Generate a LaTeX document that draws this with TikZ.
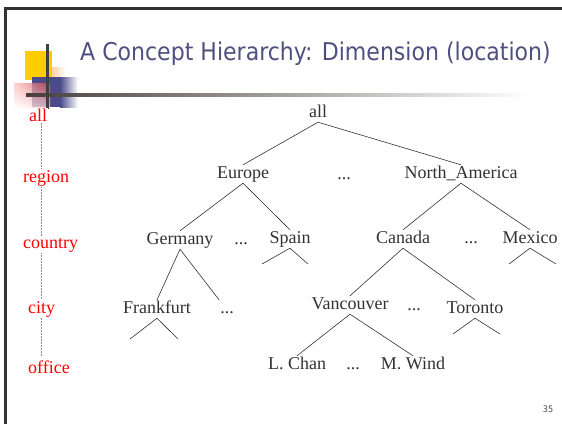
\documentclass[tikz,border=0pt]{standalone}
\usepackage{fontspec}
\setmainfont{Liberation Serif}
\newfontfamily\slidefont{DejaVu Sans Condensed}
\usetikzlibrary{positioning,shadings}
\definecolor{titleblue}{RGB}{80,80,128}
\definecolor{logoyellow}{RGB}{255,204,0}
\definecolor{logoblue}{RGB}{75,75,140}
\definecolor{logored}{RGB}{200,70,70}
\definecolor{barbrown}{RGB}{72,62,62}
\definecolor{treegray}{RGB}{50,50,50}
\tikzset{lvl/.style={font=\fontsize{18}{18}\selectfont, text=treegray,
    text height=12pt, text depth=4pt, inner sep=1pt, anchor=base},
  dim/.style={font=\fontsize{18}{18}\selectfont, text=red,
    fill=white, inner sep=1pt, anchor=base west},
  edge/.style={draw=treegray, line width=0.6pt}
}
\begin{document}
\begin{tikzpicture}[x=1pt,y=-1pt]
	\useasboundingbox (0,0) rectangle (562,424);
	\fill[white] (0,0) rectangle (562,424);
	% slide frame
	\draw[black!80, line width=2.5pt] (5.5,424) -- (5.5,8.5) -- (562,8.5);
	% logo
	\fill[logoyellow] (25,51) rectangle (52,80);
	\shade[left color=orange!35, right color=white] (52,67) rectangle (66,77);
	\fill[logoblue] (32,77) rectangle (60,107);
	\shade[left color=logoblue, right color=white] (60,77) rectangle (78,107);
	\shade[upper left=red!25, upper right=logored, lower left=white, lower right=red!15, opacity=0.75] (14,83) rectangle (50,108);
	\shade[left color=barbrown, right color=white] (26,93) rectangle (530,96);
	\fill[black!75] (46,44) rectangle (48.5,109);
	\node[anchor=base west, font=\slidefont\fontsize{24.5}{24.5}\selectfont, text=titleblue, inner sep=0] (title) at (80,60) {A Concept Hierarchy: Dimension (location)};
	% dimension levels
	\coordinate (axtop) at (41,123);
	\coordinate (axbot) at (41,357);
	\draw[black!45, dash pattern=on 2pt off 1pt, line width=0.4pt] (axtop) -- (axbot);
	\node[dim] (lall) at (28,121) {all};
	\node[dim] (lreg) at (22,182) {region};
	\node[dim] (lcou) at (22,248) {country};
	\node[dim] (lcit) at (27,313) {city};
	\node[dim] (loff) at (27,373) {office};
	% hierarchy
	\node[lvl] (all) at (318,117) {all};
	\node[lvl] (eu) at (243,178) {Europe};
	\node[lvl] (rdots) at (344,179) {...};
	\node[lvl] (na) at (461,178) {North\_America};
	\node[lvl] (ger) at (180,244) {Germany};
	\node[lvl] (cdotsA) at (241,244) {...};
	\node[lvl] (spa) at (290,243) {Spain};
	\node[lvl] (can) at (403,243) {Canada};
	\node[lvl] (cdotsB) at (471,243) {...};
	\node[lvl] (mex) at (530,243) {Mexico};
	\node[lvl] (fra) at (157,313) {Frankfurt};
	\node[lvl] (ydotsA) at (227,313) {...};
	\node[lvl] (van) at (350,309) {Vancouver};
	\node[lvl] (ydotsB) at (414,310) {...};
	\node[lvl] (tor) at (475,313) {Toronto};
	\node[lvl] (chan) at (297,369) {L. Chan};
	\node[lvl] (odots) at (353,369) {...};
	\node[lvl] (wind) at (413,369) {M. Wind};
	\draw[edge] (all.south) -- (eu.north);
	\draw[edge] (all.south) -- (na.north);
	\draw[edge] (eu.south) -- (ger.north);
	\draw[edge] (eu.south) -- (spa.north);
	\draw[edge] (na.south) -- (can.north);
	\draw[edge] (na.south) -- (mex.north);
	\draw[edge] (ger.south) -- (fra.north);
	\draw[edge] (ger.south) -- (ydotsA.north west);
	\draw[edge] (can.south) -- (van.north);
	\draw[edge] (can.south) -- (tor.north);
	\draw[edge] (van.south) -- (chan.north);
	\draw[edge] (van.south) -- (wind.north);
	% open leaves
	\coordinate (spaL) at (262,264);
	\coordinate (spaR) at (308,264);
	\coordinate (mexL) at (509,264);
	\coordinate (mexR) at (556,264);
	\coordinate (fraL) at (130,339);
	\coordinate (fraR) at (178,339);
	\coordinate (torL) at (453,334);
	\coordinate (torR) at (500,334);
	\draw[edge] (spaL) -- (spa.south) -- (spaR);
	\draw[edge] (mexL) -- (mex.south) -- (mexR);
	\draw[edge] (fraL) -- (fra.south) -- (fraR);
	\draw[edge] (torL) -- (tor.south) -- (torR);
	\node[font=\slidefont\fontsize{9}{9}\selectfont, text=black!70] (page) at (548,409) {35};
\end{tikzpicture}
\end{document}
